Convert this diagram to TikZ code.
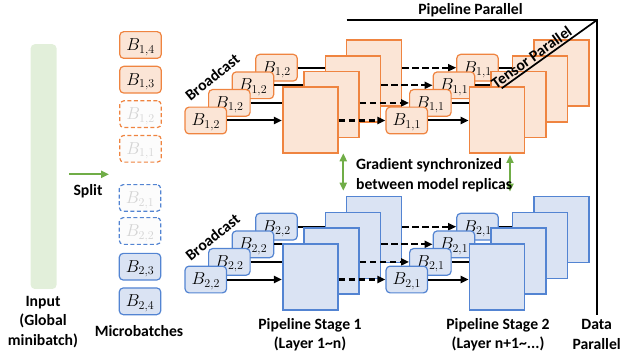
\documentclass[tikz,border=0pt]{standalone}
\usepackage{fontspec}
\setmainfont{Carlito}
\usetikzlibrary{arrows.meta}
\definecolor{ofill}{HTML}{FBE5D6}
\definecolor{oline}{HTML}{EF8440}
\definecolor{bfill}{HTML}{DAE3F3}
\definecolor{bline}{HTML}{5384D2}
\definecolor{gline}{HTML}{70AD47}
\definecolor{gbar}{HTML}{E2EFDA}
\definecolor{ghost}{HTML}{D4D4D4}
\definecolor{ghostfill}{HTML}{FCFCFC}
\newcommand{\mblab}[2]{\raisebox{-2pt}[\height][\depth]{$B_{#1,#2}$}}
\begin{document}
\begin{tikzpicture}[x=1pt,y=-1pt,
  sbox/.style={rounded corners=4pt, line width=1.2pt, minimum width=41.5pt, minimum height=26.7pt, inner sep=0pt, font=\fontsize{17}{17}\selectfont},
  bigbox/.style={line width=1.6pt, minimum width=55pt, minimum height=66pt, inner sep=0pt},
  orng/.style={draw=oline, fill=ofill},
  blu/.style={draw=bline, fill=bfill},
  ghostbox/.style={dashed, dash pattern=on 4pt off 2.5pt, fill=ghostfill, text=ghost},
  arr/.style={line width=2pt, -{Triangle[length=8pt,width=7pt]}},
  darr/.style={line width=2.2pt, dash pattern=on 6.5pt off 3.5pt, -{Triangle[length=8pt,width=7pt]}},
  garr/.style={gline, line width=2pt, -{Triangle[length=8pt,width=7pt]}},
  gdarr/.style={gline, line width=2pt, {Triangle[length=8pt,width=7pt]}-{Triangle[length=8pt,width=7pt]}},
  lbl/.style={font=\fontsize{15.7}{19.5}\selectfont\bfseries, align=center, inner sep=0pt},
  frame/.style={line width=1.7pt}
]
\useasboundingbox (0,0) rectangle (621,358);

% input bar
\node[fill=gbar, rounded corners=4pt, minimum width=25.8pt, minimum height=244.7pt, inner sep=0pt] (input) at (43.6,166.6) {};
\node[lbl] (inputtxt) at (43,322) {Input\\(Global\\minibatch)};

% split
\coordinate (spA) at (69,174.3);
\coordinate (spB) at (109,174.3);
\draw[garr] (spA) -- (spB);
\node[lbl] (split) at (88,191) {Split};

% microbatches
\node[sbox,orng] (m14) at (140.5,45) {\mblab{1}{4}};
\node[sbox,orng] (m13) at (140.5,79.7) {\mblab{1}{3}};
\node[sbox,draw=oline,ghostbox] (m12) at (140.5,114.2) {\mblab{1}{2}};
\node[sbox,draw=oline,ghostbox] (m11) at (140.5,148.8) {\mblab{1}{1}};
\node[sbox,draw=bline,ghostbox] (m21) at (140,198) {\mblab{2}{1}};
\node[sbox,draw=bline,ghostbox] (m22) at (140,231) {\mblab{2}{2}};
\node[sbox,blu] (m23) at (140,266.7) {\mblab{2}{3}};
\node[sbox,blu] (m24) at (140,301.3) {\mblab{2}{4}};
\node[lbl] (mb) at (139,331) {Microbatches};

% top replica (orange)
\foreach \k in {4,3,2,1} {
  \pgfmathsetmacro\sx{205.8+23.57*(\k-1)}
  \pgfmathsetmacro\sy{120.5-17.6*(\k-1)}
  \pgfmathsetmacro\bx{310.2+21.33*(\k-1)}
  \pgfmathsetmacro\by{120.3-15.77*(\k-1)}
  \pgfmathsetmacro\cx{406.8+23.57*(\k-1)}
  \pgfmathsetmacro\ddx{497+21.4*(\k-1)}
  \node[sbox,orng] (ta\k) at (\sx,\sy) {\mblab{1}{2}};
  \node[bigbox,orng] (tb\k) at (\bx,\by) {};
  \draw[arr] (ta\k.east) -- (ta\k.east -| tb\k.west);
  \node[sbox,orng] (tc\k) at (\cx,\sy) {\mblab{1}{1}};
  \draw[darr] (tc\k.west -| tb\k.east) -- (tc\k.west);
  \node[bigbox,orng] (td\k) at (\ddx,\by) {};
  \draw[arr] (tc\k.east) -- (tc\k.east -| td\k.west);
}

% bottom replica (blue)
\foreach \k in {4,3,2,1} {
  \pgfmathsetmacro\sx{205.8+23.57*(\k-1)}
  \pgfmathsetmacro\sy{279.5-17.6*(\k-1)}
  \pgfmathsetmacro\bx{310.2+21.33*(\k-1)}
  \pgfmathsetmacro\by{277-15.77*(\k-1)}
  \pgfmathsetmacro\cx{406.8+23.57*(\k-1)}
  \pgfmathsetmacro\ddx{497+21.4*(\k-1)}
  \node[sbox,blu] (ba\k) at (\sx,\sy) {\mblab{2}{2}};
  \node[bigbox,blu] (bb\k) at (\bx,\by) {};
  \draw[arr] (ba\k.east) -- (ba\k.east -| bb\k.west);
  \node[sbox,blu] (bc\k) at (\cx,\sy) {\mblab{2}{1}};
  \draw[darr] (bc\k.west -| bb\k.east) -- (bc\k.west);
  \node[bigbox,blu] (bd\k) at (\ddx,\by) {};
  \draw[arr] (bc\k.east) -- (bc\k.east -| bd\k.west);
}

% broadcast labels
\node[lbl, rotate=39] (bct) at (212.3,77.3) {Broadcast};
\node[lbl, rotate=39] (bcb) at (212.5,237) {Broadcast};

% gradient sync
\coordinate (g1a) at (343.3,153.3);
\coordinate (g1b) at (343.3,190.7);
\coordinate (g2a) at (510,155);
\coordinate (g2b) at (510,191.7);
\draw[gdarr] (g1a) -- (g1b);
\draw[gdarr] (g2a) -- (g2b);
\node[lbl, align=left, anchor=west] (gs) at (356,175) {Gradient synchronized\\between model replicas};

% frame: pipeline / tensor / data parallel
\coordinate (pp1) at (346.7,20);
\coordinate (pp2) at (597,20);
\coordinate (pp3) at (597,315);
\coordinate (tp) at (501.7,88.3);
\draw[frame] (pp1) -- (pp2) -- (pp3);
\draw[frame] (tp) -- node[pos=0.36, sloped, above=1.5pt, lbl] (tptxt) {Tensor Parallel} (pp2);
\node[lbl] (pptxt) at (470.5,10) {Pipeline Parallel};
\node[lbl] (dp) at (596.7,334.5) {Data\\Parallel};

% stage labels
\node[lbl] (st1) at (310,334.5) {Pipeline Stage 1\\(Layer 1\textasciitilde n)};
\node[lbl] (st2) at (498,334.5) {Pipeline Stage 2\\(Layer n+1\textasciitilde ...)};
\end{tikzpicture}
\end{document}
